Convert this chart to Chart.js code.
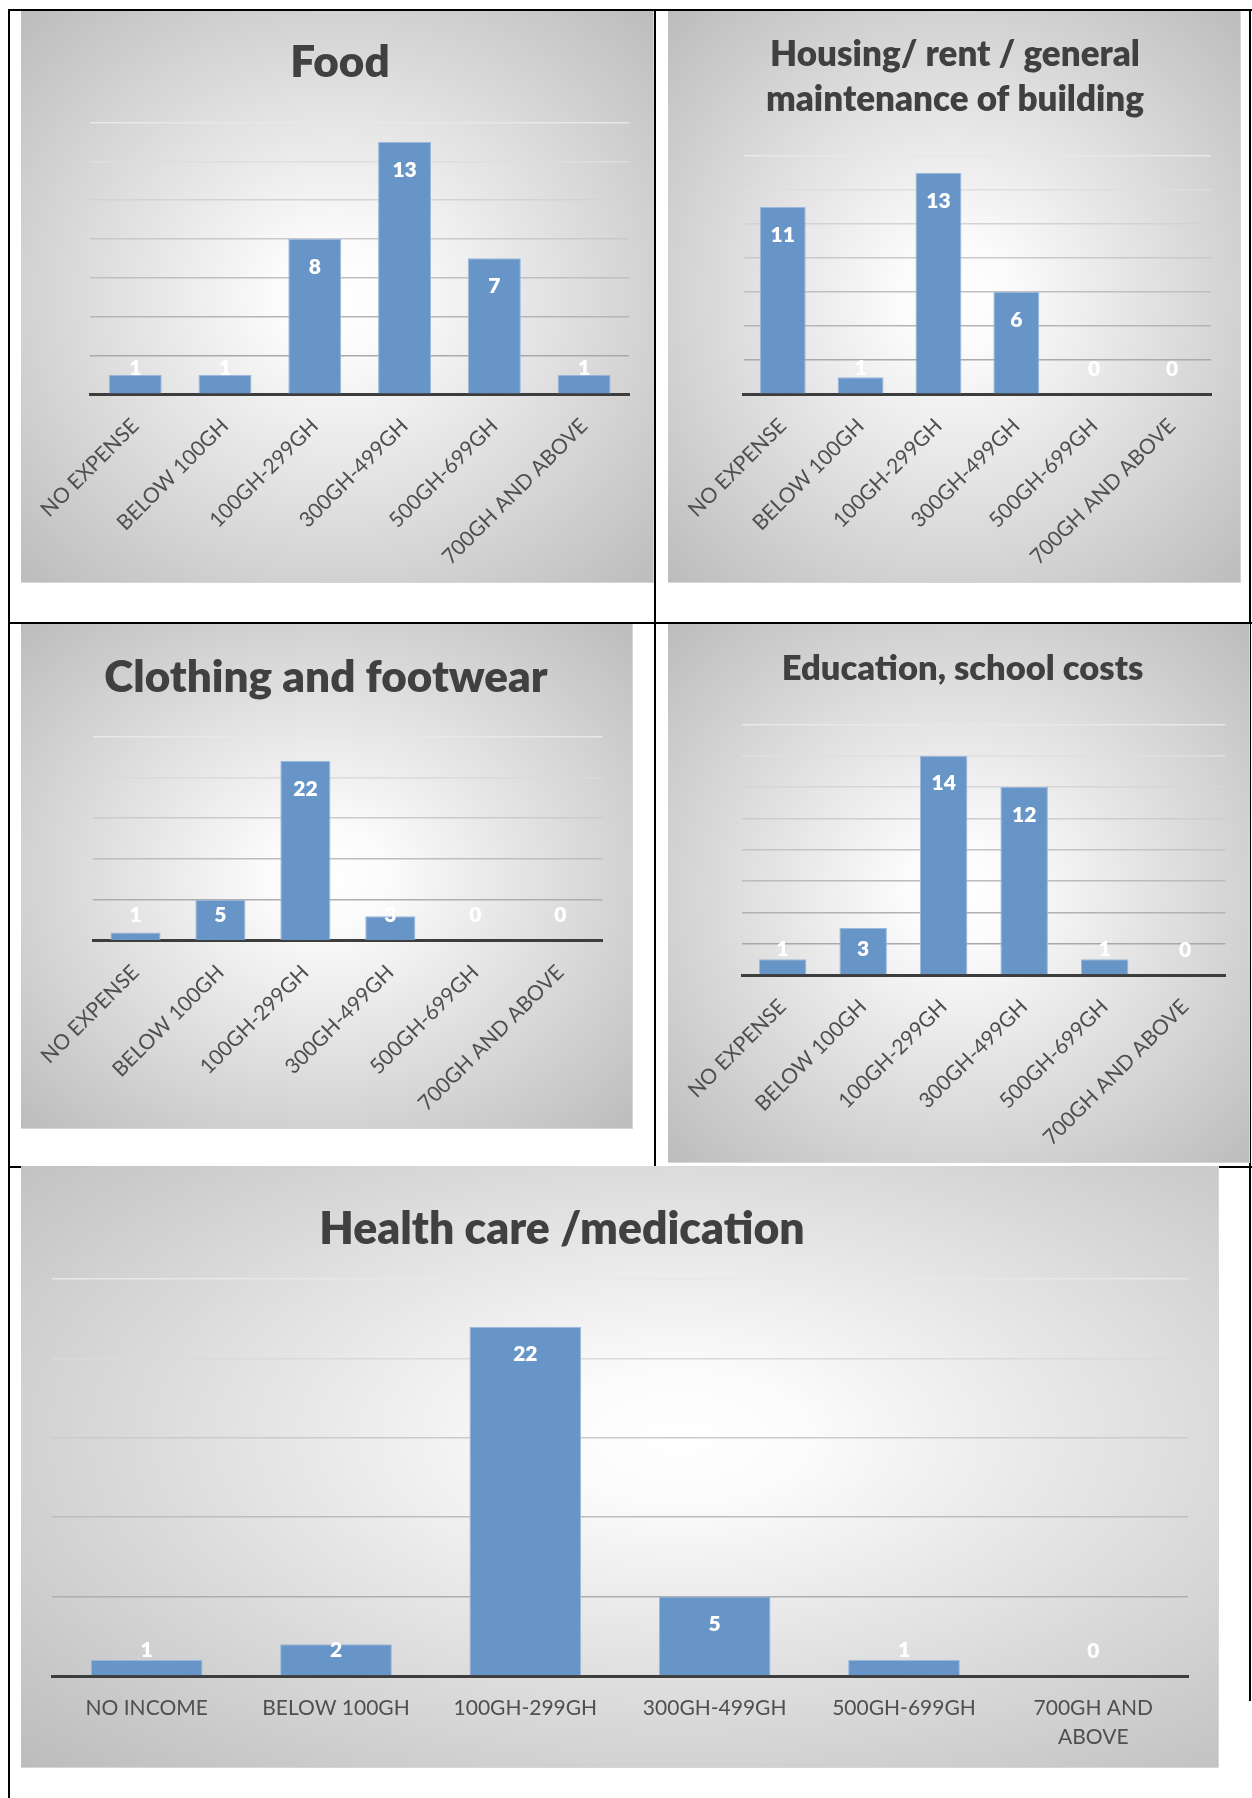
<!DOCTYPE html>
<html>
<head>
<meta charset="utf-8">
<title>Monthly household expenditure by category</title>
<script src="https://cdn.jsdelivr.net/npm/chart.js@4.4.0/dist/chart.umd.min.js"></script>
<style>
  html, body { margin: 0; padding: 0; background: #ffffff; }
  body { width: 1252px; height: 1798px; position: relative; overflow: hidden; font-family: Lato, sans-serif; }
  .rule { position: absolute; background: #000000; }
  .panel {
    position: absolute;
    background: radial-gradient(ellipse farthest-corner at 50% 50%, #ffffff 0%, #fbfbfb 14%, #bcbcbc 100%);
    box-shadow: inset -1px -1px 0 #d6d6d6;
  }
  .panel canvas { display: block; }
</style>
</head>
<body>

<!-- table rules -->
<div class="rule" style="left:8px;top:9px;width:2px;height:1789px"></div>
<div class="rule" style="left:8px;top:9px;width:1244px;height:2px"></div>
<div class="rule" style="left:654px;top:9px;width:2px;height:1158px"></div>
<div class="rule" style="left:8px;top:622px;width:1244px;height:2px"></div>
<div class="rule" style="left:8px;top:1166px;width:1244px;height:2px"></div>
<div class="rule" style="left:1249px;top:9px;width:2px;height:1692px"></div>

<div class="panel" style="left:21px;top:11px;width:633px;height:572px"><canvas id="foodChart" width="633" height="572"></canvas></div>
<div class="panel" style="left:668px;top:11px;width:573px;height:572px"><canvas id="housingChart" width="573" height="572"></canvas></div>
<div class="panel" style="left:21px;top:624px;width:612px;height:505px"><canvas id="clothingChart" width="612" height="505"></canvas></div>
<div class="panel" style="left:668px;top:624px;width:582px;height:539px"><canvas id="educationChart" width="582" height="539"></canvas></div>
<div class="panel" style="left:21px;top:1166px;width:1198px;height:602px;background:radial-gradient(ellipse farthest-corner at 55% 45%, #ffffff 0%, #fbfbfb 14%, #bcbcbc 100%)"><canvas id="healthChart" width="1198" height="602"></canvas></div>

<script>
// Spending bands (x categories)
const expenseBands = ['NO EXPENSE', 'BELOW 100GH', '100GH-299GH', '300GH-499GH', '500GH-699GH', '700GH AND ABOVE'];
const healthBands = ['NO INCOME', 'BELOW 100GH', '100GH-299GH', '300GH-499GH', '500GH-699GH', ['700GH AND', 'ABOVE']];

// Number of respondents in each band
const foodCounts = [1, 1, 8, 13, 7, 1];
const housingCounts = [11, 1, 13, 6, 0, 0];
const clothingCounts = [1, 5, 22, 3, 0, 0];
const educationCounts = [1, 3, 14, 12, 1, 0];
const healthCounts = [1, 2, 22, 5, 1, 0];

// Chart headings
const foodTitle = ['Food'];
const housingTitle = ['Housing/ rent / general', 'maintenance of building'];
const clothingTitle = ['Clothing and footwear'];
const educationTitle = ['Education, school costs'];
const healthTitle = ['Health care /medication'];

// Value-axis range and gridline step for each chart
const foodAxis = [0, 14, 2];
const housingAxis = [0, 14, 2];
const clothingAxis = [0, 25, 5];
const educationAxis = [0, 16, 2];
const healthAxis = [0, 25, 5];

const BAR_FILL = '#6895c8';
const BAR_EDGE = '#9ab8de';
const LABEL_GREY = '#4f4f4f';
const TITLE_GREY = '#404040';

// White value labels sitting just inside the top of each bar
const barValueLabels = {
  id: 'barValueLabels',
  afterDatasetsDraw(chart) {
    const ctx = chart.ctx;
    const meta = chart.getDatasetMeta(0);
    const values = chart.data.datasets[0].data;
    ctx.save();
    ctx.font = '800 21px Lato';
    ctx.fillStyle = '#ffffff';
    ctx.textAlign = 'center';
    ctx.textBaseline = 'middle';
    meta.data.forEach((bar, i) => {
      const y = Math.min(bar.y + 28, bar.base - 25);
      ctx.fillText(String(values[i]), bar.x, y);
    });
    ctx.restore();
  }
};

// Heading drawn at a fixed spot on the panel
function headingPlugin(lines, cx, baseline, size, lineGap) {
  return {
    id: 'heading',
    afterDraw(chart) {
      const ctx = chart.ctx;
      ctx.save();
      ctx.font = '800 ' + size + 'px Lato';
      ctx.fillStyle = TITLE_GREY;
      ctx.textAlign = 'center';
      ctx.textBaseline = 'alphabetic';
      lines.forEach((line, i) => ctx.fillText(line, cx, baseline + i * lineGap));
      ctx.restore();
    }
  };
}

// Gridlines fade from mid grey near the axis to pale grey at the top
function gridShade(value, max) {
  if (value === 0) return 'rgba(0,0,0,0)';
  const t = value / max;
  const g = Math.round(160 + 72 * t);
  return 'rgb(' + g + ',' + g + ',' + g + ')';
}

function barChart(canvasId, labels, values, axis, frame, heading) {
  const [yMin, yMax, yStep] = axis;
  return new Chart(document.getElementById(canvasId), {
    type: 'bar',
    data: {
      labels: labels,
      datasets: [{
        data: values,
        backgroundColor: BAR_FILL,
        borderColor: BAR_EDGE,
        borderWidth: 1,
        borderSkipped: 'start',
        barPercentage: 0.59,
        categoryPercentage: 1
      }]
    },
    options: {
      responsive: false,
      animation: false,
      devicePixelRatio: 1,
      layout: { padding: { left: frame.left, right: frame.right, top: frame.top, bottom: 0 } },
      plugins: { legend: { display: false }, tooltip: { enabled: false }, title: { display: false } },
      scales: {
        x: {
          grid: { display: false, drawTicks: false },
          border: { display: true, color: '#3d3d3d', width: 3 },
          ticks: {
            color: LABEL_GREY,
            font: { family: 'Lato', size: frame.tickSize, lineHeight: 1.38 },
            minRotation: frame.rotation,
            maxRotation: frame.rotation,
            autoSkip: false,
            padding: frame.tickPad
          },
          afterFit(scale) { scale.height = frame.bottom; }
        },
        y: {
          min: yMin,
          max: yMax,
          ticks: { stepSize: yStep, display: false },
          grid: {
            color: (c) => gridShade(c.tick.value, yMax),
            lineWidth: 1.5,
            drawTicks: false
          },
          border: { display: false },
          afterFit(scale) { scale.width = 0; }
        }
      }
    },
    plugins: [barValueLabels, headingPlugin(heading.lines, heading.x, heading.y, heading.size, heading.gap)]
  });
}

barChart('foodChart', expenseBands, foodCounts, foodAxis,
  { left: 66.5, right: 25, top: 111.5, bottom: 188.8, rotation: 45, tickSize: 21, tickPad: 18 },
  { lines: foodTitle, x: 319, y: 65.5, size: 44, gap: 0 });

barChart('housingChart', expenseBands, housingCounts, housingAxis,
  { left: 72.3, right: 30, top: 144.8, bottom: 188.8, rotation: 45, tickSize: 21, tickPad: 18 },
  { lines: housingTitle, x: 287, y: 55, size: 35, gap: 45 });

barChart('clothingChart', expenseBands, clothingCounts, clothingAxis,
  { left: 69.5, right: 30.3, top: 112.4, bottom: 188.3, rotation: 45, tickSize: 21, tickPad: 18 },
  { lines: clothingTitle, x: 305, y: 68, size: 44, gap: 0 });

barChart('educationChart', expenseBands, educationCounts, educationAxis,
  { left: 71.5, right: 24.6, top: 100.4, bottom: 188, rotation: 45, tickSize: 21, tickPad: 18 },
  { lines: educationTitle, x: 294.5, y: 56, size: 34.5, gap: 0 });

barChart('healthChart', healthBands, healthCounts, healthAxis,
  { left: 31, right: 31, top: 113, bottom: 92, rotation: 0, tickSize: 21, tickPad: 18 },
  { lines: healthTitle, x: 541, y: 78, size: 44.5, gap: 0 });
</script>
</body>
</html>
